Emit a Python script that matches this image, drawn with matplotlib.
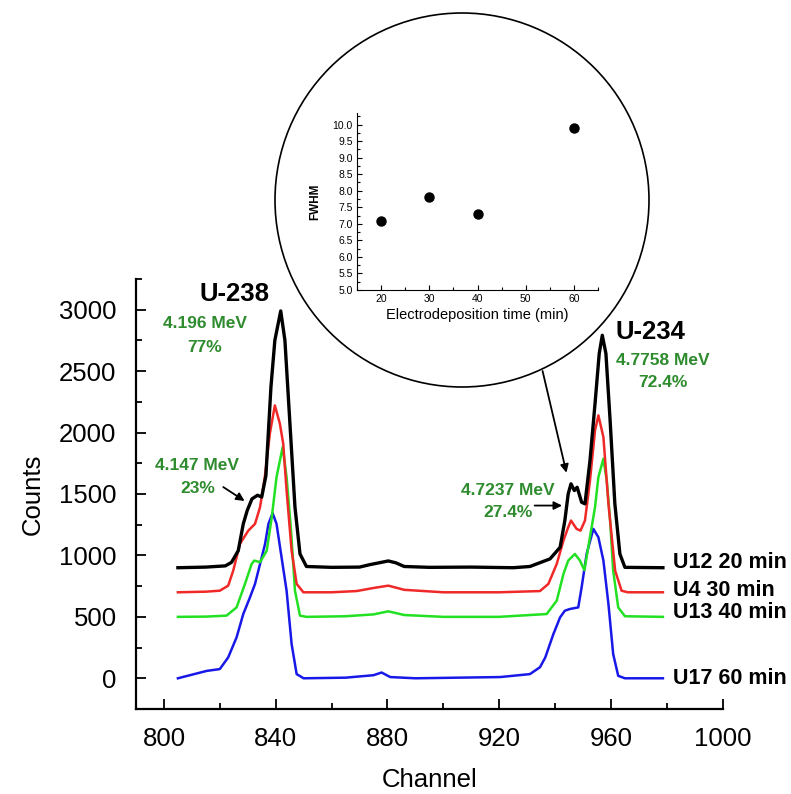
import matplotlib
matplotlib.use("Agg")
import matplotlib.pyplot as plt
from matplotlib.patches import Ellipse
from matplotlib.ticker import MultipleLocator, FormatStrFormatter

plt.rcParams['font.family'] = ['Liberation Sans', 'DejaVu Sans']

# spectra (channel, counts incl. vertical offset)
ch_u12 = [805, 815, 822, 824.2, 826.6, 828.4, 829.8, 831.5, 833.5, 835, 836.5, 838.3, 839.7, 841.8,
          843.3, 845.1, 846.9, 848.7, 851, 860, 870, 873.7, 877, 880.3, 883, 886, 895, 910, 925,
          931, 938.2, 941.8, 943.5, 944.7, 945.7, 946.9, 947.9, 949.5, 950.7, 952.5, 954.3, 955.8,
          956.9, 958.2, 959.7, 961.4, 963.2, 965, 978.6]
cnt_u12 = [900, 905, 915, 944, 1039, 1257, 1365, 1460, 1490, 1475, 1650, 2371, 2751, 2990,
           2751, 2072, 1393, 1012, 910, 903, 905, 925, 940, 955, 940, 910, 903, 905, 900,
           910, 972, 1066, 1284, 1501, 1583, 1528, 1555, 1433, 1420, 1773, 2235, 2643,
           2792, 2643, 2099, 1420, 1012, 903, 900]

ch_u4 = [805, 815, 820, 823, 824.8, 827.2, 830.2, 832.6, 834.4, 836.1, 837.9, 839.7, 841.5, 842.7,
         843.9, 845.7, 847.5, 849.9, 860, 869, 875, 880.3, 886, 900, 920, 934.6, 937.6, 940.6,
         943, 944.7, 945.7, 947.7, 949.1, 950.7, 952.5, 954.3, 955.5, 957.3, 959.1, 961.5, 963.8,
         966, 978.6]
cnt_u4 = [700, 705, 713, 754, 876, 1094, 1202, 1257, 1393, 1637, 1991, 2221, 2072, 1909,
          1529, 1039, 768, 700, 700, 710, 735, 754, 720, 700, 700, 710, 768, 931,
          1121, 1229, 1284, 1216, 1202, 1284, 1610, 2018, 2140, 1963, 1420, 876, 713,
          700, 700]

ch_u13 = [805, 815, 822.4, 826, 829, 831.4, 832.3, 834.4, 836.8, 838.6, 840.3, 842.5, 843.9, 845.5,
          846.9, 848.7, 851, 865, 875, 880.3, 886, 900, 920, 937, 940.6, 943, 944.7, 947.1, 948.9,
          950.5, 952.5, 954.3, 955.5, 957.3, 958.5, 959.7, 960.8, 962.6, 965, 978.6]
cnt_u13 = [500, 502, 510, 577, 768, 931, 958, 945, 1039, 1311, 1637, 1882, 1637, 1202,
           713, 510, 500, 505, 520, 545, 515, 500, 500, 523, 632, 849, 958, 1012, 958,
           880, 1150, 1393, 1637, 1787, 1610, 1284, 876, 577, 505, 500]

ch_u17 = [805, 815.3, 820, 823, 826, 828.4, 830.8, 832.6, 834.4, 836.2, 837.4, 838.9, 840.3, 842.1,
          843.9, 845.7, 847.5, 850, 865, 875, 877.9, 881, 890, 920.3, 931, 934.6, 936.5, 939.4,
          941.8, 943.5, 945.3, 948.3, 949.5, 951.3, 953.7, 955.5, 957.3, 959.1, 960.8, 962.6,
          965, 978.6]
cnt_u17 = [0, 60, 75, 170, 333, 523, 659, 768, 931, 1094, 1257, 1344, 1257, 985,
           713, 279, 34, 0, 5, 25, 47, 10, 0, 10, 34, 90, 170, 360,
           496, 550, 564, 577, 740, 1012, 1216, 1148, 958, 605, 197, 20,
           0, 0]

sample_names = ['U12 20 min', 'U4 30 min', 'U13 40 min', 'U17 60 min']
sample_colors = ['black', '#f02828', '#22e022', '#1818e8']
label_levels = [940, 715, 535, 0]

# inset: FWHM vs electrodeposition time
dep_time = [20, 30, 40, 60]
fwhm = [7.1, 7.8, 7.3, 9.9]

green_txt = '#2e8b2e'

fig = plt.figure(figsize=(7.91, 7.94), dpi=100)
ax = fig.add_axes([136 / 791, 1 - 709 / 794, (722.7 - 136) / 791, (709 - 279) / 794])

series = [(ch_u12, cnt_u12), (ch_u4, cnt_u4), (ch_u13, cnt_u13), (ch_u17, cnt_u17)]
for (xs, ys), c in zip(series[::-1], sample_colors[::-1]):
    ax.plot(xs, ys, color=c, lw=2.4 if c == 'black' else 1.8, solid_joinstyle='round')

for name, lev in zip(sample_names, label_levels):
    ax.text(982.2, lev, name, fontsize=15.5, fontweight='bold', ha='left', va='center')

ax.set_xlim(790, 1000)
ax.set_ylim(-250, 3250)
ax.xaxis.set_major_locator(MultipleLocator(40))
ax.xaxis.set_minor_locator(MultipleLocator(20))
ax.yaxis.set_major_locator(MultipleLocator(500))
ax.yaxis.set_minor_locator(MultipleLocator(250))
ax.tick_params(which='both', direction='in', width=1.3, labelsize=18.5)
ax.tick_params(which='major', length=7)
ax.tick_params(which='minor', length=4)
ax.tick_params(axis='x', pad=13)
ax.tick_params(axis='y', pad=14)
for s in ['top', 'right']:
    ax.spines[s].set_visible(False)
for s in ['left', 'bottom']:
    ax.spines[s].set_linewidth(1.6)
ax.set_xlabel('Channel', fontsize=18.5, labelpad=12)
ax.set_ylabel('Counts', fontsize=18.5, labelpad=10)

# peak labels
ax.text(825.4, 3126, 'U-238', fontsize=18.5, fontweight='bold', ha='center', va='center')
ax.text(814.7, 2889, '4.196 MeV', fontsize=12.5, fontweight='bold', color=green_txt, ha='center', va='center')
ax.text(814.7, 2694, '77%', fontsize=12.5, fontweight='bold', color=green_txt, ha='center', va='center')
ax.text(812, 1732, '4.147 MeV', fontsize=12.5, fontweight='bold', color=green_txt, ha='center', va='center')
ax.text(812, 1544, '23%', fontsize=12.5, fontweight='bold', color=green_txt, ha='center', va='center')
ax.annotate('', xy=(829.7, 1431), xytext=(820.4, 1569),
            arrowprops=dict(arrowstyle='-|>', color='black', lw=1.3, mutation_scale=12))

ax.text(974.3, 2816, 'U-234', fontsize=18.5, fontweight='bold', ha='center', va='center')
ax.text(978.6, 2588, '4.7758 MeV', fontsize=12.5, fontweight='bold', color=green_txt, ha='center', va='center')
ax.text(978.6, 2409, '72.4%', fontsize=12.5, fontweight='bold', color=green_txt, ha='center', va='center')
ax.text(923.1, 1528, '4.7237 MeV', fontsize=12.5, fontweight='bold', color=green_txt, ha='center', va='center')
ax.text(923.1, 1349, '27.4%', fontsize=12.5, fontweight='bold', color=green_txt, ha='center', va='center')
ax.annotate('', xy=(943.5, 1406), xytext=(931.7, 1406),
            arrowprops=dict(arrowstyle='-|>', color='black', lw=1.3, mutation_scale=12))
ax.annotate('', xy=(944.3, 1651), xytext=(935.3, 2523),
            arrowprops=dict(arrowstyle='-|>', color='black', lw=1.3, mutation_scale=12))

# magnifier circle
fig.add_artist(Ellipse((462 / 791, 1 - 200 / 794), 2 * 187 / 791, 2 * 187 / 794,
                       transform=fig.transFigure, fill=False, lw=1.2, ec='black'))

ins = fig.add_axes([357 / 791, 1 - 290 / 794, 241 / 791, 177 / 794])
ins.plot(dep_time, fwhm, 'o', color='black', ms=6.5)
ins.set_xlim(15, 65)
ins.set_ylim(5.0, 10.35)
ins.xaxis.set_major_locator(MultipleLocator(10))
ins.xaxis.set_minor_locator(MultipleLocator(5))
ins.yaxis.set_major_locator(MultipleLocator(0.5))
ins.yaxis.set_minor_locator(MultipleLocator(0.25))
ins.yaxis.set_major_formatter(FormatStrFormatter('%.1f'))
ins.tick_params(which='both', direction='in', width=0.8, labelsize=7.5, pad=3)
ins.tick_params(which='major', length=3.5)
ins.tick_params(which='minor', length=2)
for s in ['top', 'right']:
    ins.spines[s].set_visible(False)
ins.patch.set_alpha(0)
ins.set_xlabel('Electrodeposition time (min)', fontsize=10.5, labelpad=3)
ins.set_ylabel('FWHM', fontsize=8.5, fontweight='bold', labelpad=8)

fig.savefig('out.png', dpi=100)
